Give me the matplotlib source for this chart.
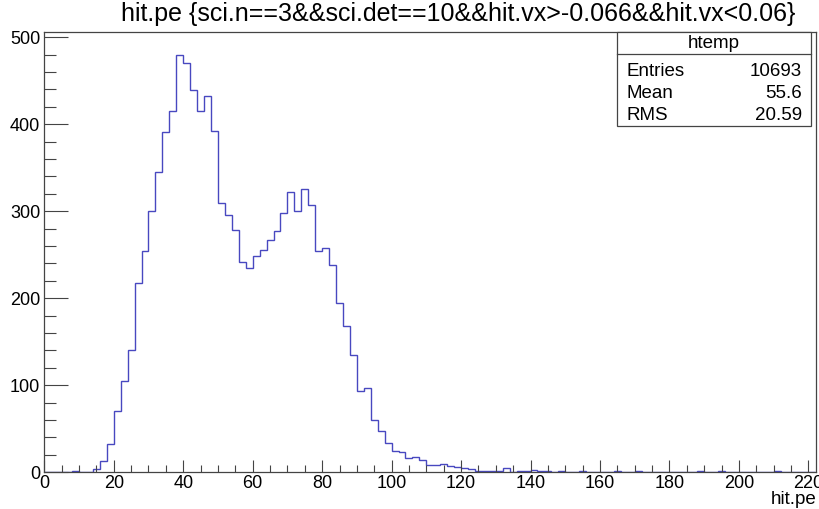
import numpy as np
import matplotlib
matplotlib.use('Agg')
from matplotlib import pyplot as plt
from matplotlib.patches import Rectangle
from matplotlib.ticker import MultipleLocator

plt.rcParams['font.family'] = ['Liberation Sans', 'DejaVu Sans']

# histogram content, bins of width 2 starting at 0
bin_width = 2
counts = [0, 0, 0, 0, 1, 0, 0, 4, 13, 33,
          71, 105, 141, 218, 254, 300, 345, 391, 415, 480,
          470, 439, 415, 433, 392, 310, 296, 279, 242, 235,
          249, 255, 267, 277, 298, 322, 300, 326, 307, 254,
          258, 238, 195, 168, 135, 94, 97, 60, 48, 34,
          24, 23, 16, 18, 14, 8, 8, 9, 7, 6,
          5, 4, 1, 1, 1, 1, 5, 0, 1, 1,
          3, 1, 1, 0, 1, 0, 0, 1, 0, 0,
          0, 0, 1, 0, 0, 1, 0, 0, 0, 0,
          0, 0, 0, 0, 1, 0, 0, 1, 0, 0,
          0, 0, 0, 0, 0, 1, 0, 0, 0, 0, 0]
edges = np.arange(len(counts) + 1) * bin_width

title = 'hit.pe {sci.n==3&&sci.det==10&&hit.vx>-0.066&&hit.vx<0.06}'
stats_name = 'htemp'
stats_labels = ['Entries', 'Mean', 'RMS']
stats_values = ['10693', '55.6', '20.59']

W, H = 820, 509
fig = plt.figure(figsize=(W / 100, H / 100), dpi=100)
ax = fig.add_axes([44.3 / W, 1 - 472.3 / H, (816 - 44.3) / W, (472.3 - 32.3) / H])

ax.stairs(counts, edges, color='#4848c0', lw=1.0)

ax.set_xlim(0, 222.2)
ax.set_ylim(0, 505.7)
ax.xaxis.set_major_locator(MultipleLocator(20))
ax.xaxis.set_minor_locator(MultipleLocator(5))
ax.yaxis.set_major_locator(MultipleLocator(100))
ax.yaxis.set_minor_locator(MultipleLocator(20))
ax.tick_params(axis='x', which='major', direction='in', length=9, width=0.8,
               color='#444444', labelsize=13, pad=2, top=False)
ax.tick_params(axis='x', which='minor', direction='in', length=5, width=0.8,
               color='#444444', top=False)
ax.tick_params(axis='y', which='major', direction='in', length=17, width=0.8,
               color='#444444', labelsize=13, pad=3, right=False)
ax.tick_params(axis='y', which='minor', direction='in', length=8.5, width=0.8,
               color='#444444', right=False)
for s in ax.spines.values():
    s.set_color('#444444')
    s.set_linewidth(0.9)

ax.set_xlabel('hit.pe', loc='right', fontsize=13.5, labelpad=-1)

fig.text(458 / W, 1 - 14 / H, title, ha='center', va='center', fontsize=18)

# stats box
bx0, bx1, by0, by1, bsep = 617.3, 811, 32.3, 126, 54.3
fig.patches.append(Rectangle((bx0 / W, 1 - by1 / H), (bx1 - bx0) / W, (by1 - by0) / H,
                             transform=fig.transFigure, fill=True, facecolor='white',
                             edgecolor='#444444', lw=0.9, zorder=5))
fig.add_artist(plt.Line2D([bx0 / W, bx1 / W], [1 - bsep / H, 1 - bsep / H],
                          transform=fig.transFigure, color='#444444', lw=0.9, zorder=6))
fig.text((bx0 + bx1) / 2 / W, 1 - 43.5 / H, stats_name, ha='center', va='center',
         fontsize=13.5, zorder=7)
row_y = [71.5, 93.5, 115.5]
for lab, val, yy in zip(stats_labels, stats_values, row_y):
    fig.text((bx0 + 9) / W, 1 - yy / H, lab, ha='left', va='center', fontsize=13.5, zorder=7)
    fig.text((bx1 - 9) / W, 1 - yy / H, val, ha='right', va='center', fontsize=13.5, zorder=7)

fig.savefig('out.png', dpi=100)
